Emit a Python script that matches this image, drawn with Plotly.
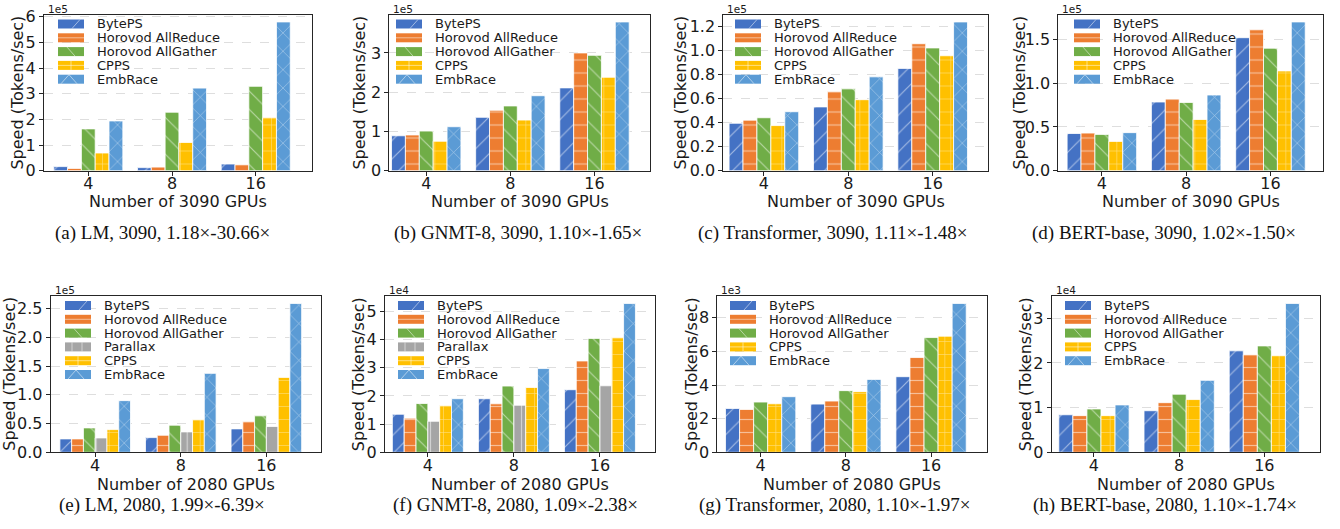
import plotly.graph_objects as go

# ---- data (values in units of each panel's axis multiplier) ----
gpu_counts = ["4", "8", "16"]

series_order = ["BytePS", "Horovod AllReduce", "Horovod AllGather", "Parallax", "CPPS", "EmbRace"]

series_colors = {
    "BytePS": "#4472C4",
    "Horovod AllReduce": "#ED7D31",
    "Horovod AllGather": "#70AD47",
    "Parallax": "#A5A5A5",
    "CPPS": "#FFC000",
    "EmbRace": "#5B9BD5",
}

series_hatch = {
    "BytePS": "/",
    "Horovod AllReduce": "-",
    "Horovod AllGather": "\\",
    "Parallax": "|",
    "CPPS": "+",
    "EmbRace": "x",
}

# RTX 3090 cluster (x1e5 tokens/sec)
lm_3090 = {
    "BytePS": [0.16, 0.12, 0.26],
    "Horovod AllReduce": [0.09, 0.14, 0.23],
    "Horovod AllGather": [1.63, 2.28, 3.29],
    "CPPS": [0.69, 1.10, 2.06],
    "EmbRace": [1.94, 3.22, 5.80],
}
gnmt_3090 = {
    "BytePS": [0.89, 1.36, 2.11],
    "Horovod AllReduce": [0.91, 1.54, 3.00],
    "Horovod AllGather": [1.01, 1.65, 2.94],
    "CPPS": [0.75, 1.29, 2.38],
    "EmbRace": [1.12, 1.91, 3.79],
}
transformer_3090 = {
    "BytePS": [0.394, 0.53, 0.85],
    "Horovod AllReduce": [0.42, 0.655, 1.055],
    "Horovod AllGather": [0.44, 0.68, 1.02],
    "CPPS": [0.375, 0.59, 0.955],
    "EmbRace": [0.49, 0.78, 1.236],
}
bert_3090 = {
    "BytePS": [0.425, 0.785, 1.52],
    "Horovod AllReduce": [0.43, 0.82, 1.61],
    "Horovod AllGather": [0.415, 0.78, 1.40],
    "CPPS": [0.335, 0.585, 1.14],
    "EmbRace": [0.435, 0.865, 1.70],
}

# RTX 2080 cluster
lm_2080 = {  # x1e5
    "BytePS": [0.233, 0.256, 0.408],
    "Horovod AllReduce": [0.233, 0.297, 0.53],
    "Horovod AllGather": [0.425, 0.472, 0.635],
    "Parallax": [0.25, 0.355, 0.449],
    "CPPS": [0.396, 0.565, 1.305],
    "EmbRace": [0.90, 1.375, 2.593],
}
gnmt_2080 = {  # x1e4
    "BytePS": [1.35, 1.90, 2.22],
    "Horovod AllReduce": [1.21, 1.72, 3.24],
    "Horovod AllGather": [1.73, 2.35, 4.04],
    "Parallax": [1.10, 1.67, 2.36],
    "CPPS": [1.66, 2.30, 4.06],
    "EmbRace": [1.90, 2.97, 5.28],
}
transformer_2080 = {  # x1e3
    "BytePS": [2.61, 2.87, 4.50],
    "Horovod AllReduce": [2.55, 3.05, 5.64],
    "Horovod AllGather": [2.99, 3.67, 6.83],
    "CPPS": [2.89, 3.61, 6.91],
    "EmbRace": [3.31, 4.34, 8.86],
}
bert_2080 = {  # x1e4
    "BytePS": [0.84, 0.93, 2.27],
    "Horovod AllReduce": [0.82, 1.11, 2.18],
    "Horovod AllGather": [0.97, 1.30, 2.38],
    "CPPS": [0.82, 1.18, 2.16],
    "EmbRace": [1.06, 1.61, 3.33],
}

# ---- layout (pixel geometry of each panel) ----
W, H = 1340, 529
SANS = "DejaVu Sans"
SERIF = "Liberation Serif"
INK = "#1a1a1a"

panels = [
    dict(values=lm_3090, mult="1e5", dtick=1, fmt="", gpu="3090",
         caption="(a) LM, 3090, 1.18×-30.66×",
         box=(44.0, 312.0, 14.5, 170.7), xr=(-0.529, 2.672), cap_x=162, leg_x=95, yt_x=18),
    dict(values=gnmt_3090, mult="1e5", dtick=1, fmt="", gpu="3090",
         caption="(b) GNMT-8, 3090, 1.10×-1.65×",
         box=(389.3, 650.0, 14.5, 170.7), xr=(-0.439, 2.660), cap_x=518, leg_x=433, yt_x=360),
    dict(values=transformer_3090, mult="1e5", dtick=0.2, fmt=".1f", gpu="3090",
         caption="(c) Transformer, 3090, 1.11×-1.48×",
         box=(723.3, 988.3, 14.5, 170.7), xr=(-0.481, 2.659), cap_x=833, leg_x=772, yt_x=681),
    dict(values=bert_3090, mult="1e5", dtick=0.5, fmt=".1f", gpu="3090",
         caption="(d) BERT-base, 3090, 1.02×-1.50×",
         box=(1058.3, 1323.3, 14.5, 170.7), xr=(-0.517, 2.627), cap_x=1164, leg_x=1111, yt_x=1020),
    dict(values=lm_2080, mult="1e5", dtick=0.5, fmt=".1f", gpu="2080",
         caption="(e) LM, 2080, 1.99×-6.39×",
         box=(50.7, 320.7, 296.0, 452.3), xr=(-0.520, 2.635), cap_x=162, leg_x=102, yt_x=9.5),
    dict(values=gnmt_2080, mult="1e4", dtick=1, fmt="", gpu="2080",
         caption="(f) GNMT-8, 2080, 1.09×-2.38×",
         box=(385.0, 655.0, 296.0, 452.3), xr=(-0.498, 2.640), cap_x=515, leg_x=435, yt_x=358),
    dict(values=transformer_2080, mult="1e3", dtick=2, fmt="", gpu="2080",
         caption="(g) Transformer, 2080, 1.10×-1.97×",
         box=(717.3, 986.7, 296.0, 452.3), xr=(-0.509, 2.653), cap_x=834, leg_x=767, yt_x=691),
    dict(values=bert_2080, mult="1e4", dtick=1, fmt="", gpu="2080",
         caption="(h) BERT-base, 2080, 1.10×-1.74×",
         box=(1051.7, 1320.0, 296.0, 452.3), xr=(-0.496, 2.653), cap_x=1165, leg_x=1102, yt_x=1025),
]


def px_x(v):
    return v / W


def px_y(v):
    return 1 - v / H


fig = go.Figure()
annotations = []
shapes = []


def add_text(text, x, y, size, xanchor="center", yanchor="middle", family=SANS, angle=0, color=INK):
    annotations.append(dict(
        text=text, xref="paper", yref="paper", x=px_x(x), y=px_y(y),
        xanchor=xanchor, yanchor=yanchor, showarrow=False, textangle=angle,
        font=dict(family=family, size=size, color=color),
    ))


def swatch_lines(hatch, l, t, b):
    """White hatch strokes drawn over a legend swatch (pixel coordinates)."""
    m = (t + b) / 2
    segs = []
    if hatch == "/":
        segs = [((l + 14, b), (l + 22, t))]
    elif hatch == "\\":
        segs = [((l + 9, t), (l + 17, b))]
    elif hatch == "-":
        segs = [((l, m), (l + 26, m))]
    elif hatch == "|":
        segs = [((l + 7, t), (l + 7, b)), ((l + 17, t), (l + 17, b))]
    elif hatch == "+":
        segs = [((l + 13, t), (l + 13, b)), ((l, m), (l + 26, m))]
    elif hatch == "x":
        segs = [((l + 3, b), (l + 11, t)), ((l + 11, t), (l + 19, b))]
    return segs


for i, p in enumerate(panels, start=1):
    x0, x1, ytop, ybot = p["box"]
    suffix = "" if i == 1 else str(i)
    xa, ya = f"x{suffix}", f"y{suffix}"
    ymax = max(max(v) for v in p["values"].values()) * 1.05
    names = [n for n in series_order if n in p["values"]]
    xr0, xr1 = p["xr"]

    for name in names:
        fig.add_trace(go.Bar(
            x=gpu_counts, y=p["values"][name], name=name,
            xaxis=xa, yaxis=ya, showlegend=False,
            marker=dict(
                color=series_colors[name],
                line=dict(color="white", width=0.8),
                pattern=dict(shape=series_hatch[name], fillmode="overlay",
                             fgcolor="white", fgopacity=0.5, size=13, solidity=0.09),
            ),
        ))

    axis_common = dict(
        showline=True, mirror=True, linecolor="#262626", linewidth=1,
        ticks="outside", ticklen=4, tickcolor="#262626",
        tickfont=dict(family=SANS, size=16, color=INK),
        zeroline=False, automargin=False,
    )
    fig.layout[f"xaxis{suffix}"] = dict(
        axis_common, domain=[px_x(x0), px_x(x1)], anchor=ya,
        type="category", range=[xr0, xr1], showgrid=False,
        ticklabelstandoff=-6,
    )
    fig.layout[f"yaxis{suffix}"] = dict(
        axis_common, domain=[px_y(ybot), px_y(ytop)], anchor=xa,
        range=[0, ymax], dtick=p["dtick"], tick0=0, tickformat=p["fmt"],
        showgrid=True, gridcolor="#dedede", griddash="dash", gridwidth=1,
    )

    # axis titles
    xt_y = 201 if i <= 4 else 484
    add_text(f"Number of {p['gpu']} GPUs", (x0 + x1) / 2, xt_y, 16)
    add_text("Speed (Tokens/sec)", p["yt_x"], (ytop + ybot) / 2, 16, angle=-90)

    # axis multiplier above the top-left corner
    add_text(p["mult"], x0 + 2, ytop - 6, 10.5, xanchor="left")

    # subfigure caption
    cap_y = 233 if i <= 4 else 505
    add_text(p["caption"], p["cap_x"], cap_y, 19, family=SERIF, color="#111111")

    # legend: white frame (over the grid, under the bars), hatched swatches and labels
    row0 = ytop + 9.5
    step = 13.8
    sw_l = p["leg_x"] - 37
    rows = [row0 + k * step for k in range(len(names))]

    def ax_x(v):
        return xr0 + (v - x0) / (x1 - x0) * (xr1 - xr0)

    def ax_y(v):
        return ymax * (ybot - v) / (ybot - ytop)

    shapes.append(dict(
        type="rect", xref=xa, yref=ya, layer="below",
        x0=ax_x(sw_l - 3), x1=ax_x(p["leg_x"] + 128),
        y0=ax_y(rows[-1] + 7), y1=ax_y(rows[0] - 7),
        fillcolor="white", line=dict(width=0),
    ))
    for name, yc in zip(names, rows):
        t, b = yc - 4.5, yc + 4.5
        shapes.append(dict(
            type="rect", xref="paper", yref="paper", layer="above",
            x0=px_x(sw_l), x1=px_x(sw_l + 26), y0=px_y(b), y1=px_y(t),
            fillcolor=series_colors[name], line=dict(width=0),
        ))
        for (ax, ay), (bx, by) in swatch_lines(series_hatch[name], sw_l, t, b):
            shapes.append(dict(
                type="line", xref="paper", yref="paper", layer="above",
                x0=px_x(ax), y0=px_y(ay), x1=px_x(bx), y1=px_y(by),
                line=dict(color="rgba(255,255,255,0.5)", width=1),
            ))
        add_text(name, p["leg_x"], yc, 13, xanchor="left")

fig.update_layout(
    width=W, height=H,
    margin=dict(l=0, r=0, t=0, b=0),
    paper_bgcolor="white", plot_bgcolor="white",
    barmode="group", bargap=0.175, bargroupgap=0.0,
    font=dict(family=SANS, size=16, color=INK),
    showlegend=False,
    annotations=annotations,
    shapes=shapes,
)
fig.write_html("out.html")
